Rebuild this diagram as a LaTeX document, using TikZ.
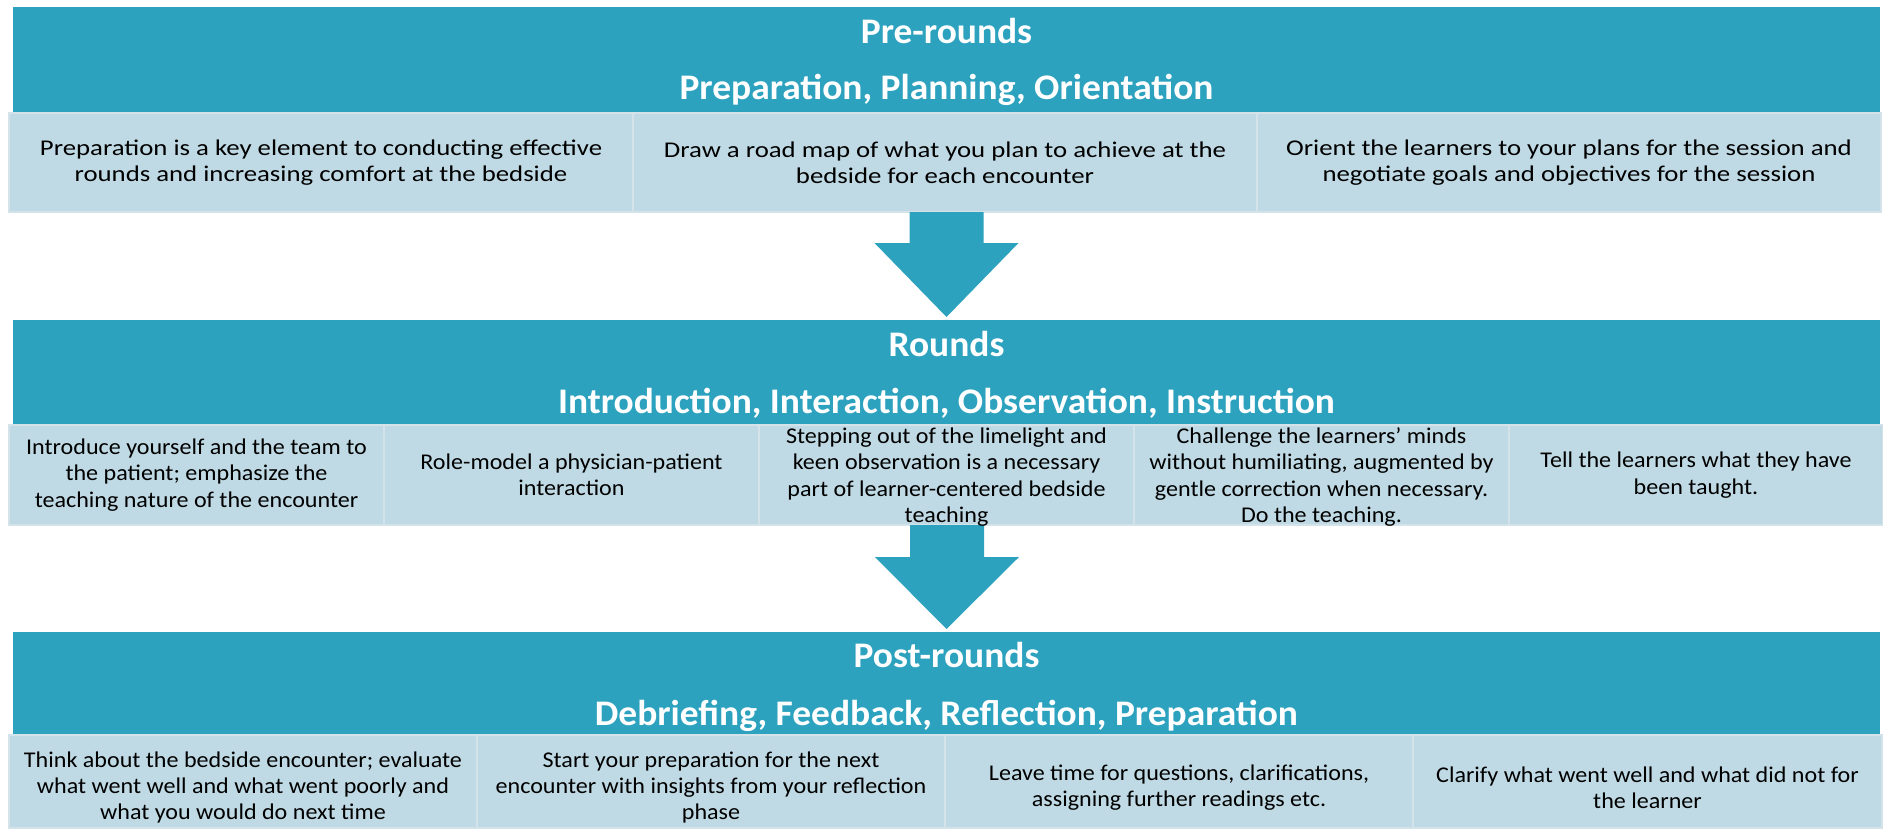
\documentclass[tikz,border=0pt]{standalone}
\usepackage{fontspec}
\setmainfont{Carlito}
\newfontfamily\rowonefont[FakeStretch=1.19]{Carlito}
\newfontfamily\cellfont[FakeStretch=1.07]{Carlito}
\newfontfamily\hdrfont[FakeStretch=1.04]{Carlito}
\usetikzlibrary{calc}
\definecolor{hdrblue}{HTML}{2DA2BF}
\definecolor{cellfill}{HTML}{BFDAE4}
\definecolor{cellline}{HTML}{D3E3E9}
\tikzset{
  hdrbox/.style={fill=hdrblue, draw=none, inner sep=0pt, outer sep=0pt, anchor=north west},
  hdrtext/.style={text=white, font=\hdrfont\fontsize{36}{40}\selectfont\bfseries, anchor=base, inner sep=0pt},
  cellbox/.style={fill=cellfill, draw=cellline, line width=2pt, inner sep=0pt, outer sep=0pt, anchor=north west, minimum height=#1},
  celltext/.style={text=black, font=\cellfont\fontsize{22.5}{26.4}\selectfont, align=center, inner sep=0pt},
  rowonetext/.style={celltext, font=\rowonefont\fontsize{22.5}{26.4}\selectfont},
  blockarrow/.style={fill=hdrblue, draw=none}
}
\begin{document}
\begin{tikzpicture}[x=1pt,y=-1pt]
\useasboundingbox (0,0) rectangle (1883,828);
% headers
\node[hdrbox, minimum width=1867pt, minimum height=106pt] (h1) at (13,7) {};
\node[hdrbox, minimum width=1867pt, minimum height=106pt] (h2) at (13,320) {};
\node[hdrbox, minimum width=1867pt, minimum height=103pt] (h3) at (13,632) {};
% row 1 cells
\node[cellbox=99pt, minimum width=624pt] (a1) at (9,113) {};
\node[cellbox=99pt, minimum width=624pt] (a2) at (633,113) {};
\node[cellbox=99pt, minimum width=624pt] (a3) at (1257,113) {};
% row 2 cells
\node[cellbox=100pt, minimum width=375pt] (b1) at (9,425) {};
\node[cellbox=100pt, minimum width=375pt] (b2) at (384,425) {};
\node[cellbox=100pt, minimum width=375pt] (b3) at (759,425) {};
\node[cellbox=100pt, minimum width=375pt] (b4) at (1134,425) {};
\node[cellbox=100pt, minimum width=374pt] (b5) at (1509,425) {};
% row 3 cells
\node[cellbox=93pt, minimum width=468pt] (c1) at (9,735) {};
\node[cellbox=93pt, minimum width=468pt] (c2) at (477,735) {};
\node[cellbox=93pt, minimum width=468pt] (c3) at (945,735) {};
\node[cellbox=93pt, minimum width=469pt] (c4) at (1413,735) {};
% block arrows
\fill[blockarrow] let \p1=($(a2.south)+(1.5,0)$), \p2=($(h2.north)+(0,-3)$) in
  (\x1-37pt,\y1) -- (\x1+37pt,\y1) -- (\x1+37pt,\y1-31pt) -- (\x1+72pt,\y1-31pt)
  -- (\x2,\y2) -- (\x1-72pt,\y1-31pt) -- (\x1-37pt,\y1-31pt) -- cycle;
\fill[blockarrow] let \p1=($(b3.south)+(0.5,0)$), \p2=($(h3.north)+(0,-3)$) in
  (\x1-37pt,\y1) -- (\x1+37pt,\y1) -- (\x1+37pt,\y1-32pt) -- (\x1+72pt,\y1-32pt)
  -- (\x2,\y2) -- (\x1-72pt,\y1-32pt) -- (\x1-37pt,\y1-32pt) -- cycle;
% header texts
\node[hdrtext] (t1a) at ($(h1.north)+(0,36)$) {Pre-rounds};
\node[hdrtext] (t1b) at ($(h1.north)+(0,92)$) {Preparation, Planning, Orientation};
\node[hdrtext] (t2a) at ($(h2.north)+(0,36)$) {Rounds};
\node[hdrtext] (t2b) at ($(h2.north)+(0,93)$) {Introduction, Interaction, Observation, Instruction};
\node[hdrtext] (t3a) at ($(h3.north)+(0,35)$) {Post-rounds};
\node[hdrtext] (t3b) at ($(h3.north)+(0,93)$) {Debriefing, Feedback, Reflection, Preparation};
% row 1 texts
\node[rowonetext] at (a1.center) {Preparation is a key element to conducting effective\\rounds and increasing comfort at the bedside};
\node[rowonetext] at (a2.center) {Draw a road map of what you plan to achieve at the\\bedside for each encounter};
\node[rowonetext] at (a3.center) {Orient the learners to your plans for the session and\\negotiate goals and objectives for the session};
% row 2 texts
\node[celltext] at (b1.center) {Introduce yourself and the team to\\the patient; emphasize the\\teaching nature of the encounter};
\node[celltext] at (b2.center) {Role-model a physician-patient\\interaction};
\node[celltext] at ($(b3.center)+(0,2)$) {Stepping out of the limelight and\\keen observation is a necessary\\part of learner-centered bedside\\teaching};
\node[celltext] at ($(b4.center)+(0,2)$) {Challenge the learners’ minds\\without humiliating, augmented by\\gentle correction when necessary.\\Do the teaching.};
\node[celltext] at (b5.center) {Tell the learners what they have\\been taught.};
% row 3 texts
\node[celltext] at ($(c1.center)+(0,6)$) {Think about the bedside encounter; evaluate\\what went well and what went poorly and\\what you would do next time};
\node[celltext] at ($(c2.center)+(0,6)$) {Start your preparation for the next\\encounter with insights from your reflection\\phase};
\node[celltext] at ($(c3.center)+(0,6)$) {Leave time for questions, clarifications,\\assigning further readings etc.};
\node[celltext] at ($(c4.center)+(0,6)$) {Clarify what went well and what did not for\\the learner};
\end{tikzpicture}
\end{document}
